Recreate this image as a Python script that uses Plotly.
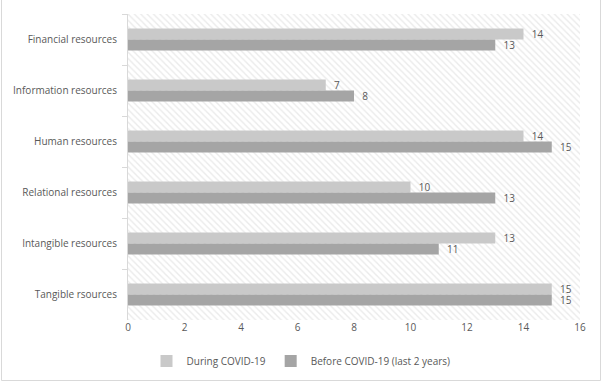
import plotly.graph_objects as go

categories = ["Financial resources", "Information resources", "Human resources",
              "Relational resources", "Intangible resources", "Tangible rsources"]
during = [14, 7, 14, 10, 13, 15]
before = [13, 8, 15, 13, 11, 15]
series_names = ["During COVID-19", "Before COVID-19 (last 2 years)"]
x_max = 16

W, H = 602, 382
ml, mr, mt, mb = 128, 22, 14, 62
pw, ph = W - ml - mr, H - mt - mb

font = "Open Sans"
txt = "#595959"
fs = 10

fig = go.Figure()
# hatched plot-area background (on hidden base axis, drawn beneath)
fig.add_trace(go.Bar(
    x=[x_max], y=[0], orientation="h", width=1, yaxis="y",
    marker=dict(color="white", line=dict(width=0),
                pattern=dict(shape="\\", fgcolor="#d6d6d6", bgcolor="white",
                             size=4.5, solidity=0.3)),
    showlegend=False, hoverinfo="skip"))
fig.add_trace(go.Bar(
    y=categories, x=during, orientation="h", name=series_names[0], yaxis="y2",
    marker=dict(color="#c9c9c9", line=dict(width=0)),
    texttemplate="  %{x}", textposition="outside", constraintext="none",
    textfont=dict(color=txt, size=fs, family=font), cliponaxis=False))
fig.add_trace(go.Bar(
    y=categories, x=before, orientation="h", name=series_names[1], yaxis="y2",
    marker=dict(color="#a5a5a5", line=dict(width=0)),
    texttemplate="  %{x}", textposition="outside", constraintext="none",
    textfont=dict(color=txt, size=fs, family=font), cliponaxis=False))

fig.update_layout(
    width=W, height=H,
    margin=dict(l=ml, r=mr, t=mt, b=mb, autoexpand=False),
    paper_bgcolor="white", plot_bgcolor="white",
    barmode="group", bargap=0.57, bargroupgap=0,
    font=dict(family=font, size=fs, color=txt),
    xaxis=dict(range=[0, x_max], dtick=2, showgrid=True, gridcolor="#d9d9d9",
               gridwidth=1, zeroline=False, showline=False, ticks="",
               automargin=False,
               tickfont=dict(size=fs, color=txt, family=font)),
    yaxis=dict(range=[-0.5, 0.5], visible=False, fixedrange=True, showgrid=False,
               automargin=False),
    yaxis2=dict(overlaying="y", side="left", type="category", autorange="reversed",
                showgrid=True, gridcolor="#d9d9d9", tickson="boundaries",
                ticks="outside", ticklen=5, tickcolor="#d9d9d9", showline=True,
                linecolor="#d9d9d9", ticklabelstandoff=8, automargin=False,
                tickfont=dict(size=fs, color=txt, family=font)),
    legend=dict(orientation="h", x=(301 - ml) / pw, xanchor="center",
                y=-(361 - 320) / ph, yanchor="middle",
                font=dict(size=fs, color=txt, family=font),
                traceorder="normal", itemwidth=30),
    showlegend=True,
)
# outer chart border
fig.add_shape(type="rect", xref="paper", yref="paper",
              x0=(1.5 - ml) / pw, x1=(W - 1.5 - ml) / pw,
              y0=-(H - 1.5 - mt - ph) / ph, y1=(H - 1.5 - mt) / ph,
              line=dict(color="#d9d9d9", width=1), fillcolor="rgba(0,0,0,0)",
              layer="below")

fig.write_html("out.html", config={"displayModeBar": False},
               post_script="document.body.style.margin='0';document.body.style.overflow='hidden';")
